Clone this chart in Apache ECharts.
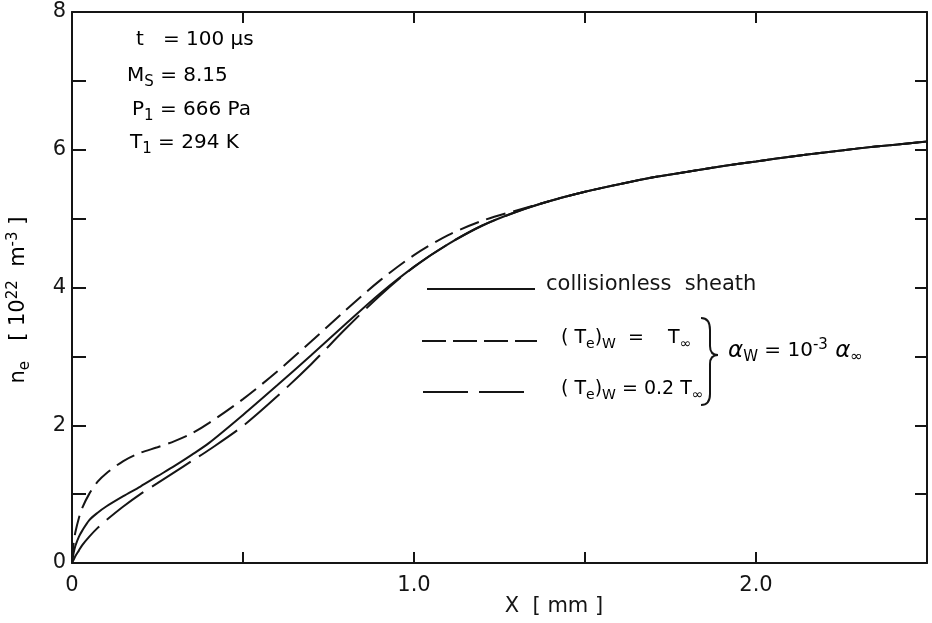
<!DOCTYPE html>
<html>
<head>
<meta charset="utf-8">
<style>
  html, body { margin: 0; padding: 0; background: #fff; }
  #chart { width: 932px; height: 623px; }
</style>
<script src="https://cdn.jsdelivr.net/npm/echarts@6/dist/echarts.min.js"></script>
</head>
<body>
<div id="chart"></div>
<script>
// Distance from the wall, mm
const xMm = [0, 0.005, 0.01, 0.02, 0.03, 0.05, 0.075, 0.1, 0.15, 0.2, 0.25, 0.3, 0.35, 0.4, 0.5, 0.6, 0.7, 0.8, 0.9, 1.0, 1.1, 1.2, 1.3, 1.4, 1.5, 1.6, 1.7, 1.8, 1.9, 2.0, 2.1, 2.2, 2.3, 2.4, 2.5];

// Electron number density, 10^22 m^-3
const neCollisionless = [0, 0.15, 0.25, 0.38, 0.47, 0.62, 0.73, 0.82, 0.97, 1.11, 1.26, 1.41, 1.57, 1.74, 2.15, 2.58, 3.02, 3.47, 3.91, 4.30, 4.63, 4.90, 5.10, 5.26, 5.39, 5.50, 5.60, 5.68, 5.76, 5.83, 5.90, 5.96, 6.02, 6.07, 6.12];
const neWallTinf = [0, 0.30, 0.45, 0.65, 0.80, 1.00, 1.18, 1.30, 1.48, 1.60, 1.68, 1.77, 1.88, 2.03, 2.38, 2.78, 3.22, 3.67, 4.10, 4.47, 4.76, 4.97, 5.12, 5.26, 5.39, 5.50, 5.60, 5.68, 5.76, 5.83, 5.90, 5.96, 6.02, 6.07, 6.12];
const neWall02Tinf = [0, 0.05, 0.10, 0.18, 0.26, 0.38, 0.51, 0.62, 0.82, 1.00, 1.16, 1.32, 1.48, 1.64, 1.99, 2.42, 2.89, 3.40, 3.88, 4.30, 4.63, 4.90, 5.10, 5.26, 5.39, 5.50, 5.60, 5.68, 5.76, 5.83, 5.90, 5.96, 6.02, 6.07, 6.12];

// Axis ticks and the labels written under them
const xTicks = [0, 0.5, 1.0, 1.5, 2.0, 2.5];
const xTickLabels = ['0', '', '1.0', '', '2.0', ''];
const yTicks = [0, 1, 2, 3, 4, 5, 6, 7, 8];
const yTickLabels = ['0', '', '2', '', '4', '', '6', '', '8'];

const INK = '#151515';
const FONT = 'DejaVu Sans';

const pairs = arr => xMm.map((x, i) => [x, arr[i]]);

const chart = echarts.init(document.getElementById('chart'), null, { renderer: 'canvas' });

function xLabel(v) {
  const i = xTicks.findIndex(t => Math.abs(t - v) < 1e-9);
  return i >= 0 ? xTickLabels[i] : '';
}
function yLabel(v) {
  const i = yTicks.findIndex(t => Math.abs(t - v) < 1e-9);
  return i >= 0 ? yTickLabels[i] : '';
}

const axisLine = { show: true, onZero: false, lineStyle: { color: INK, width: 2 } };
const tickStyle = { color: INK, width: 2 };

// rich-text styles: normal, subscript, superscript
const richText = (size, small) => ({
  n: { fontSize: size, fontFamily: FONT, color: INK },
  sub: { fontSize: small, fontFamily: FONT, color: INK, padding: [12, 0, 0, 0] },
  sup: { fontSize: small, fontFamily: FONT, color: INK, padding: [0, 0, 12, 0] },
  a: { fontSize: size + 3, fontFamily: FONT, fontStyle: 'italic', color: INK }
});
const bigRich = richText(21, 15);
const midRich = richText(20, 15);
const legRich = richText(19, 14);

const seriesLine = (name, data, type) => ({
  name,
  type: 'line',
  data: pairs(data),
  showSymbol: false,
  smooth: 0.3,
  lineStyle: { color: INK, width: 2, type },
  z: 3
});

// right brace joining the two wall-temperature cases
const braceStyle = { stroke: INK, lineWidth: 2, fill: null };
const brace = [
  { type: 'bezierCurve', shape: { x1: 701, y1: 318, cpx1: 710, cpy1: 318, x2: 710, y2: 330 }, style: braceStyle },
  { type: 'line', shape: { x1: 710, y1: 330, x2: 710, y2: 346 }, style: braceStyle },
  { type: 'bezierCurve', shape: { x1: 710, y1: 346, cpx1: 710, cpy1: 355, x2: 718, y2: 355 }, style: braceStyle },
  { type: 'bezierCurve', shape: { x1: 718, y1: 355, cpx1: 710, cpy1: 355, x2: 710, y2: 364 }, style: braceStyle },
  { type: 'line', shape: { x1: 710, y1: 364, x2: 710, y2: 394 }, style: braceStyle },
  { type: 'bezierCurve', shape: { x1: 710, y1: 394, cpx1: 710, cpy1: 405, x2: 701, y2: 405 }, style: braceStyle }
];

chart.setOption({
  backgroundColor: '#ffffff',
  animation: false,
  grid: { left: 72, right: 5, top: 12, bottom: 60 },
  xAxis: [
    {
      type: 'value', min: 0, max: 2.5, interval: 0.5,
      axisLine,
      axisTick: { show: true, inside: true, length: 11, lineStyle: tickStyle },
      splitLine: { show: false },
      axisLabel: { formatter: xLabel, color: INK, fontSize: 21, fontFamily: FONT, margin: 12, showMaxLabel: true }
    },
    {
      type: 'value', min: 0, max: 2.5, interval: 0.5, position: 'top',
      axisLine,
      axisTick: { show: true, inside: true, length: 11, lineStyle: tickStyle },
      axisLabel: { show: false }, splitLine: { show: false }
    }
  ],
  yAxis: [
    {
      type: 'value', min: 0, max: 8, interval: 1,
      axisLine,
      axisTick: { show: true, inside: true, length: 14, lineStyle: tickStyle },
      splitLine: { show: false },
      axisLabel: { formatter: yLabel, color: INK, fontSize: 21, fontFamily: FONT, margin: 6 }
    },
    {
      type: 'value', min: 0, max: 8, interval: 1, position: 'right',
      axisLine,
      axisTick: { show: true, inside: true, length: 12, lineStyle: tickStyle },
      axisLabel: { show: false }, splitLine: { show: false }
    }
  ],
  series: [
    seriesLine('collisionless sheath', neCollisionless, 'solid'),
    seriesLine('(Te)w = T∞', neWallTinf, [20, 8]),
    seriesLine('(Te)w = 0.2 T∞', neWall02Tinf, [46, 10])
  ],
  graphic: [
    // axis titles
    {
      type: 'text', x: 19, y: 300, rotation: Math.PI / 2,
      style: {
        text: '{n|n}{sub|e}{n|   [ 10}{sup|22}{n|  m}{sup|-3}{n| ]}',
        rich: bigRich, align: 'center', verticalAlign: 'middle'
      }
    },
    { type: 'text', x: 554, y: 607, style: { text: 'X  [ mm ]', fill: INK, font: '21px "DejaVu Sans"', align: 'center', verticalAlign: 'middle' } },
    // run conditions
    { type: 'text', x: 136, y: 40, style: { text: '{n|t   = 100 μs}', rich: midRich, verticalAlign: 'middle' } },
    { type: 'text', x: 127, y: 76, style: { text: '{n|M}{sub|S}{n| = 8.15}', rich: midRich, verticalAlign: 'middle' } },
    { type: 'text', x: 132, y: 110, style: { text: '{n|P}{sub|1}{n| = 666 Pa}', rich: midRich, verticalAlign: 'middle' } },
    { type: 'text', x: 130, y: 143, style: { text: '{n|T}{sub|1}{n| = 294 K}', rich: midRich, verticalAlign: 'middle' } },
    // legend samples
    { type: 'line', shape: { x1: 427, y1: 289, x2: 535, y2: 289 }, style: { stroke: INK, lineWidth: 2 } },
    { type: 'line', shape: { x1: 422, y1: 341, x2: 537, y2: 341 }, style: { stroke: INK, lineWidth: 2, lineDash: [24, 7] } },
    { type: 'line', shape: { x1: 423, y1: 392, x2: 533, y2: 392 }, style: { stroke: INK, lineWidth: 2, lineDash: [45, 11] } },
    // legend texts
    { type: 'text', x: 546, y: 285, style: { text: 'collisionless  sheath', fill: INK, font: '21px "DejaVu Sans"', verticalAlign: 'middle' } },
    { type: 'text', x: 561, y: 338, style: { text: '{n|( T}{sub|e}{n|)}{sub|W}{n|  =    T}{sub|∞}', rich: legRich, verticalAlign: 'middle' } },
    { type: 'text', x: 561, y: 389, style: { text: '{n|( T}{sub|e}{n|)}{sub|W}{n| = 0.2 T}{sub|∞}', rich: legRich, verticalAlign: 'middle' } },
    ...brace,
    {
      type: 'text', x: 728, y: 351,
      style: { text: '{a|α}{sub|W}{n| = 10}{sup|-3}{a| α}{sub|∞}', rich: midRich, verticalAlign: 'middle' }
    }
  ]
});
</script>
</body>
</html>
